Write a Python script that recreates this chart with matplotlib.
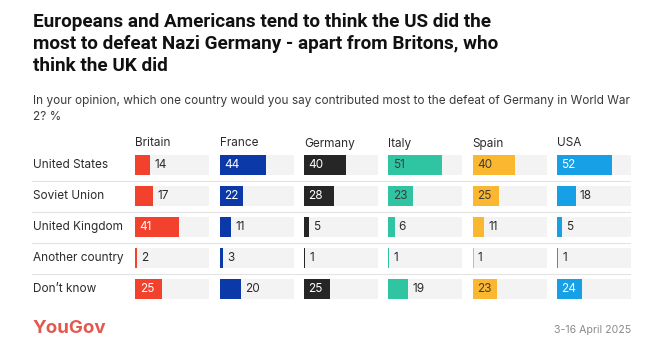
import matplotlib.pyplot as plt

# survey data (% naming each country as main contributor)
countries = ['Britain', 'France', 'Germany', 'Italy', 'Spain', 'USA']
answers = ['United States', 'Soviet Union', 'United Kingdom', 'Another country', 'Don\u2019t know']
britain = [14, 17, 41, 2, 25]
france = [44, 22, 11, 3, 20]
germany = [40, 28, 5, 1, 25]
italy = [51, 23, 6, 1, 19]
spain = [40, 25, 11, 1, 23]
usa = [52, 18, 5, 1, 24]
values = [britain, france, germany, italy, spain, usa]

colors = ['#f2412d', '#0b3aa8', '#262626', '#2fc5a2', '#fbb72f', '#18a0e6']
inner_text = ['white', 'white', 'white', '#3d3d3d', '#3d3d3d', 'white']

W, H = 649, 355
TRACK = 70
FS = 8.5
plt.rcParams['font.family'] = ['Inter', 'DejaVu Sans']

fig = plt.figure(figsize=(W / 100, H / 100), dpi=100)


def fx(px):
    return px / W


def fy(py):
    return 1 - py / H


# rows block: row centres at 165 + 31*i px
top_px, bottom_px = 149.5, 304.5
ax_y = fy(bottom_px)
ax_h = (bottom_px - top_px) / H

# background axis with separators and row labels
bg = fig.add_axes([fx(32), ax_y, fx(631) - fx(32), ax_h])
bg.set_xlim(0, 1)
bg.set_ylim(len(answers) - 0.5, -0.5)
bg.axis('off')
for k in range(len(answers) - 1):
    bg.axhline(k + 0.5, color='#e4e4e4', lw=0.8)
for k, a in enumerate(answers):
    bg.text(0.002, k, a, va='center', ha='left', fontsize=FS, color='#2b2b2b')

rows = list(range(len(answers)))
for i, (c, vals) in enumerate(zip(countries, values)):
    left = 135.3 + 84.3 * i
    ax = fig.add_axes([fx(left), ax_y, 74 / W, ax_h])
    ax.set_xlim(0, TRACK)
    ax.set_ylim(len(answers) - 0.5, -0.5)
    ax.axis('off')
    ax.barh(rows, [TRACK] * len(rows), height=0.65, color='#f3f3f3')
    ax.barh(rows, vals, height=0.65, color=colors[i])
    for r, v in zip(rows, vals):
        if v > 20:
            ax.annotate(str(v), (0, r), xytext=(3.2, 0), textcoords='offset points',
                        va='center', ha='left', fontsize=FS, color=inner_text[i])
        else:
            ax.annotate(str(v), (v, r), xytext=(3, 0), textcoords='offset points',
                        va='center', ha='left', fontsize=FS, color='#2b2b2b')
    fig.text(fx(left), fy(143.5), c, va='center', ha='left', fontsize=FS, color='#2b2b2b')

fig.text(fx(33), fy(13), 'Europeans and Americans tend to think the US did the\n'
         'most to defeat Nazi Germany - apart from Britons, who\nthink the UK did',
         va='top', ha='left', fontsize=13.6, fontweight='bold', color='#111111',
         family=['Roboto', 'DejaVu Sans'], linespacing=1.3)

fig.text(fx(33), fy(95), 'In your opinion, which one country would you say contributed most '
         'to the defeat of Germany in World War\n2? %',
         va='top', ha='left', fontsize=FS, color='#3a3a3a', linespacing=1.5)

fig.text(fx(33), fy(333), 'YouGov', va='baseline', ha='left', fontsize=13.5,
         fontweight='bold', color='#e2594f')
fig.text(fx(631), fy(333), '3-16 April 2025', va='baseline', ha='right',
         fontsize=7.6, color='#8a8a8a')

fig.savefig('out.png', dpi=100, facecolor='white')
